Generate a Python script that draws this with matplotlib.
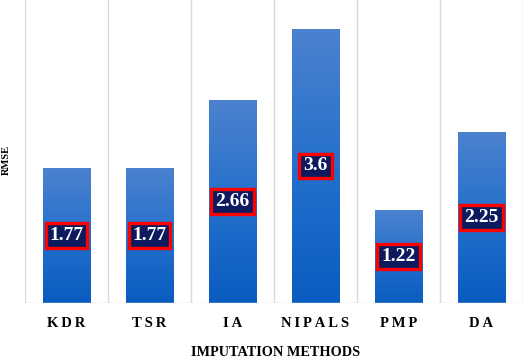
import matplotlib
matplotlib.use("Agg")
import matplotlib.pyplot as plt
import numpy as np
from matplotlib.colors import LinearSegmentedColormap

categories = ["KDR", "TSR", "IA", "NIPALS", "PMP", "DA"]
values = [1.77, 1.77, 2.66, 3.6, 1.22, 2.25]
value_labels = ["1.77", "1.77", "2.66", "3.6", "1.22", "2.25"]
y_label = "RMSE"
x_label = "IMPUTATION METHODS"

SERIF = ["Liberation Serif", "DejaVu Serif"]

fig = plt.figure(figsize=(5.26, 3.58), dpi=100)
ax = fig.add_axes([25/526, 55/358, 498/526, 303/358])
ax.set_xlim(-0.5, len(categories) - 0.5)
ax.set_ylim(0, 3.98)

cmap = LinearSegmentedColormap.from_list("g", ["#0A5CC0", "#2470CC", "#4C82CF"])
grad = np.linspace(0, 1, 256).reshape(-1, 1)
bw = 0.57
x = np.arange(len(categories))

# gridlines at category boundaries
for b in np.arange(-0.5, len(categories), 1.0):
    ax.axvline(b, color="#D9D9D9", lw=1.0, zorder=0)

bars = ax.bar(x, values, width=bw, color="none", edgecolor="none", zorder=2)
for bar in bars:
    x0, w, h = bar.get_x(), bar.get_width(), bar.get_height()
    im = ax.imshow(grad, cmap=cmap, origin="lower", aspect="auto",
                   extent=[x0, x0 + w, 0, h], zorder=2, interpolation="bicubic")
    im.set_clip_path(bar)

for xi, v, lab in zip(x, values, value_labels):
    ax.text(xi, v / 2, lab, ha="center", va="center", color="white",
            fontsize=14, fontweight="bold", family=SERIF, zorder=5,
            bbox=dict(boxstyle="square,pad=0.2", facecolor="#0D1B5E",
                      edgecolor="#FF0000", linewidth=2.4))

ax.axhline(0, color="#D9D9D9", lw=1.0, zorder=3)
for s in ax.spines.values():
    s.set_visible(False)
ax.set_yticks([])
ax.set_xticks(x)
ax.set_xticklabels(["\u2009".join(c) for c in categories], family=SERIF,
                   fontweight="bold", fontsize=10.5)
ax.tick_params(axis="x", length=0, pad=10)

fig.text(276/526, 1 - 352/358, x_label, ha="center", va="center",
         family=SERIF, fontweight="bold", fontsize=10.3)
fig.text(6/526, 1 - 160/358, y_label, ha="center", va="center", rotation=90,
         family=SERIF, fontweight="bold", fontsize=7.5)

fig.savefig("out.png", dpi=100)
